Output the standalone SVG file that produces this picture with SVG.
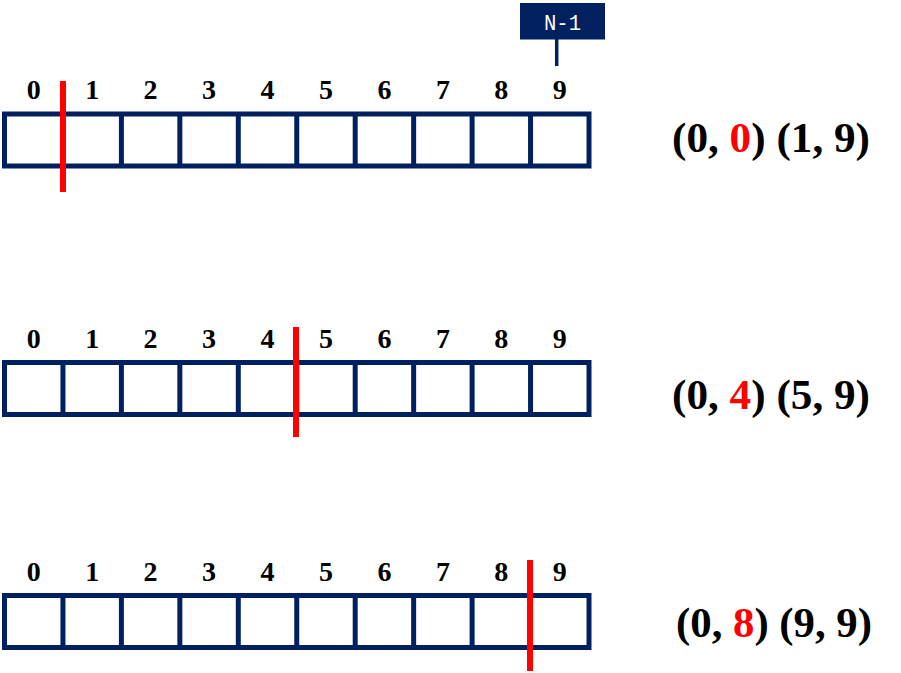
<svg xmlns="http://www.w3.org/2000/svg" width="901" height="673" viewBox="0 0 901 673">
<style>
.cell{fill:none;stroke:#002060;stroke-width:5}
.idx{font-family:"Liberation Serif",serif;font-weight:bold;font-size:28px;fill:#000;text-anchor:middle}
.res{font-family:"Liberation Serif",serif;font-weight:bold;font-size:42px;fill:#000}
.red{fill:#FF0000}
.cut{stroke:#FF0000;stroke-width:6}
</style>
<defs>
<g id="arr">
<rect class="cell" x="4.5" y="0" width="584.5" height="52"/>
<path class="cell" d="M62.95 0V52M121.4 0V52M179.85 0V52M238.3 0V52M296.75 0V52M355.2 0V52M413.65 0V52M472.1 0V52M530.55 0V52"/>
</g>
<g id="nums" class="idx">
<text x="33.7">0</text><text x="92.2">1</text><text x="150.6">2</text><text x="209.1">3</text><text x="267.5">4</text><text x="326">5</text><text x="384.4">6</text><text x="442.9">7</text><text x="501.3">8</text><text x="559.8">9</text>
</g>
</defs>
<g id="label-n1">
<rect x="520" y="3" width="85" height="36.5" fill="#002060"/>
<text x="562.5" y="29.5" font-family="'Liberation Mono',monospace" font-size="22" fill="#ffffff" text-anchor="middle" textLength="37" lengthAdjust="spacingAndGlyphs">N-1</text>
</g>
<g id="row1">
<use href="#nums" y="99"/>
<use href="#arr" y="114"/>
</g>
<g id="row2">
<use href="#nums" y="348"/>
<use href="#arr" y="362.5"/>
</g>
<g id="row3">
<use href="#nums" y="581"/>
<use href="#arr" y="595.5"/>
</g>
<g id="connectors">
<line x1="556.7" y1="39" x2="556.7" y2="66" stroke="#002060" stroke-width="3.5"/>
<line class="cut" x1="63" y1="81" x2="63" y2="192"/>
<line class="cut" x1="296" y1="327" x2="296" y2="437"/>
<line class="cut" x1="530" y1="560" x2="530" y2="671"/>
</g>
<g id="result1"><text class="res" x="672" y="152" textLength="198" lengthAdjust="spacingAndGlyphs">(0, <tspan class="red">0</tspan>) (1, 9)</text></g>
<g id="result2"><text class="res" x="672" y="409" textLength="198" lengthAdjust="spacingAndGlyphs">(0, <tspan class="red">4</tspan>) (5, 9)</text></g>
<g id="result3"><text class="res" x="676" y="637" textLength="196" lengthAdjust="spacingAndGlyphs">(0, <tspan class="red">8</tspan>) (9, 9)</text></g>
</svg>
